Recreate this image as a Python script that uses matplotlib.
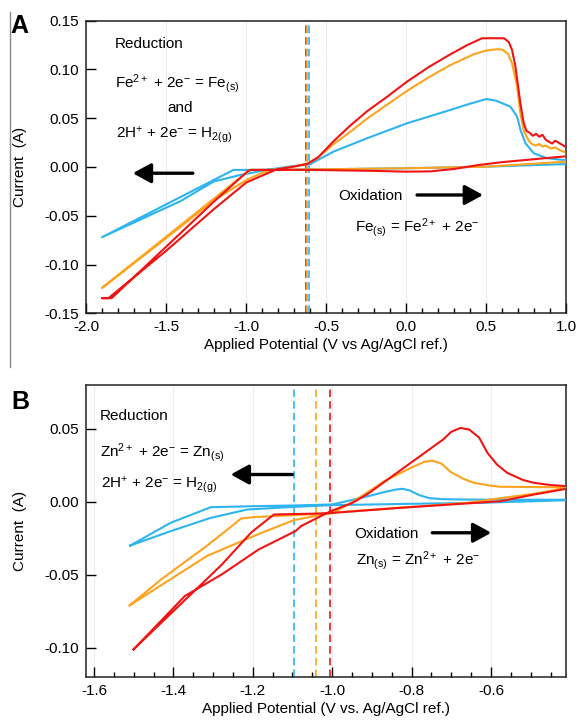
import matplotlib
matplotlib.use("Agg")
import matplotlib.pyplot as plt
from matplotlib.lines import Line2D
from matplotlib.ticker import MultipleLocator, FormatStrFormatter

plt.rcParams['font.family'] = ['Liberation Sans', 'DejaVu Sans']
plt.rcParams['mathtext.fontset'] = 'custom'
plt.rcParams['mathtext.rm'] = 'Liberation Sans'
plt.rcParams['mathtext.it'] = 'Liberation Sans:italic'
plt.rcParams['mathtext.bf'] = 'Liberation Sans:bold'
plt.rcParams['axes.unicode_minus'] = False

RED = '#f01414'
ORANGE = '#fca41e'
BLUE = '#2eb4ee'

# ---------------- Panel A (Fe) data ----------------
a_red_x = [-0.62, -0.55, -0.454, -0.35, -0.246, -0.12, 0.004, 0.14, 0.275, 0.38, 0.473, 0.61, 0.64, 0.66,
           0.68, 0.70, 0.715, 0.733, 0.75, 0.77, 0.79, 0.81, 0.83, 0.85, 0.87, 0.89, 0.91, 0.93, 0.95, 0.97,
           0.99, 1.0,
           1.0, 0.8, 0.6, 0.45, 0.3, 0.15, 0.0, -0.2, -0.4, -0.6, -0.8, -0.97,
           -0.99, -1.2, -1.5, -1.84, -1.90,
           -1.86, -1.5, -1.2, -1.0, -0.91, -0.81, -0.7, -0.62]
a_red_y = [0.003, 0.010, 0.0265, 0.0425, 0.057, 0.072, 0.0875, 0.1025, 0.1155, 0.125, 0.132, 0.132, 0.128, 0.120,
           0.104, 0.080, 0.062, 0.045, 0.037, 0.035, 0.032, 0.034, 0.031, 0.033, 0.028, 0.026, 0.024, 0.027, 0.025, 0.023,
           0.021, 0.020,
           0.011, 0.008, 0.005, 0.002, -0.002, -0.0045, -0.0048, -0.004, -0.0035, -0.003, -0.003, -0.003,
           -0.0043, -0.0353, -0.0818, -0.1345, -0.1345,
           -0.1345, -0.086, -0.043, -0.016, -0.0095, -0.0025, 0.0005, 0.003]

a_orange_x = [-0.61, -0.55, -0.454, -0.35, -0.246, -0.12, 0.004, 0.14, 0.275, 0.42, 0.50, 0.567, 0.60, 0.635,
              0.66, 0.692, 0.7125, 0.733, 0.764, 0.78, 0.806, 0.83, 0.85, 0.87, 0.90, 0.93, 0.96, 0.98, 1.0,
              1.0, 0.5, 0.0, -0.6, -0.975,
              -1.0, -1.2, -1.5, -1.90,
              -1.5, -1.2, -1.0, -0.9, -0.8, -0.7, -0.61]
a_orange_y = [0.004, 0.010, 0.0235, 0.036, 0.0495, 0.064, 0.078, 0.092, 0.1045, 0.1155, 0.1195, 0.1207, 0.1203, 0.116,
              0.1063, 0.0823, 0.0544, 0.0372, 0.027, 0.024, 0.022, 0.0235, 0.021, 0.022, 0.019, 0.020, 0.017, 0.016, 0.014,
              0.0055, 0.0003, -0.0013, -0.0025, -0.003,
              -0.006, -0.0323, -0.0716, -0.124,
              -0.073, -0.034, -0.0135, -0.006, -0.002, 0.0005, 0.004]

a_blue_x = [-0.60, -0.454, -0.246, 0.004, 0.275, 0.40, 0.50, 0.56, 0.65, 0.692, 0.7125, 0.744, 0.796, 0.879,
            0.98, 1.0,
            1.0, 0.5, 0.0, -0.6, -1.0, -1.079,
            -1.41, -1.90,
            -1.41, -1.204, -1.0375, -0.87, -0.75, -0.60]
a_blue_y = [0.003, 0.0158, 0.0294, 0.0448, 0.0585, 0.065, 0.0697, 0.068, 0.0618, 0.0516, 0.038, 0.0243, 0.014, 0.009,
            0.0072, 0.007,
            0.003, 0.0003, -0.0013, -0.0025, -0.003, -0.003,
            -0.0308, -0.072,
            -0.035, -0.015, -0.0082, -0.003, 0.0, 0.003]

a_ocp = [-0.628, -0.619, -0.610]   # red, orange, blue

# ---------------- Panel B (Zn) data ----------------
b_red_x = [-1.50, -1.371, -1.278, -1.185, -1.092, -1.079, -1.004, -0.949, -0.91, -0.82, -0.721, -0.70, -0.677,
           -0.655, -0.63, -0.609, -0.585, -0.559, -0.52, -0.492, -0.45, -0.408,
           -0.408, -0.492, -0.576, -0.70, -0.828, -0.9955, -1.029, -1.147,
           -1.204, -1.278, -1.343, -1.50]
b_red_y = [-0.101, -0.0645, -0.0497, -0.0326, -0.020, -0.0167, -0.0064, -0.0007, 0.0055, 0.0232, 0.0426, 0.0480, 0.0506,
           0.0495, 0.0440, 0.0335, 0.0255, 0.0198, 0.0150, 0.013, 0.0115, 0.0107,
           0.009, 0.005, 0.0004, -0.0018, -0.0041, -0.0075, -0.008, -0.0087,
           -0.021, -0.043, -0.060, -0.101]

b_orange_x = [-1.51, -1.43, -1.315, -1.25, -1.23, -1.20, -1.1, -1.0, -0.954, -0.90, -0.87, -0.8025, -0.77,
              -0.748, -0.725, -0.702, -0.67, -0.643, -0.60, -0.576, -0.408,
              -0.408, -0.492, -0.576, -0.66, -0.828, -1.0,
              -1.096, -1.185, -1.315, -1.407, -1.51]
b_orange_y = [-0.0709, -0.053, -0.030, -0.016, -0.0115, -0.0105, -0.0092, -0.0078, -0.001, 0.0085, 0.014, 0.0232, 0.0272,
              0.0282, 0.0262, 0.0205, 0.0158, 0.013, 0.011, 0.0103, 0.0099,
              0.0096, 0.0055, 0.0025, -0.0007, -0.004, -0.0075,
              -0.0125, -0.022, -0.037, -0.053, -0.0709]

b_blue_x = [-1.509, -1.407, -1.306, -1.2, -1.096, -1.0, -0.954, -0.90, -0.87, -0.84, -0.823, -0.805, -0.78,
            -0.755, -0.72, -0.65, -0.408,
            -0.408, -0.628, -0.814, -1.0, -1.1, -1.214, -1.306, -1.407, -1.509]
b_blue_y = [-0.030, -0.0144, -0.0037, -0.003, -0.0025, -0.0018, 0.001, 0.0045, 0.0066, 0.0084, 0.0089, 0.0078, 0.0045,
            0.0025, 0.0018, 0.0015, 0.0014,
            0.0011, -0.0007, -0.0014, -0.0023, -0.0035, -0.0053, -0.011, -0.0201, -0.030]

b_ocp = [-1.006, -1.041, -1.095]   # red, orange, blue

# ---------------- figure ----------------
fig = plt.figure(figsize=(5.78, 7.21), dpi=100)
axA = fig.add_axes([0.1488, 0.5655, 0.8313, 0.4058])
axB = fig.add_axes([0.1488, 0.0610, 0.8313, 0.4050])

FS = 11
LW = 1.5


def style(ax, xmaj, xmin, ymaj, xfmt, yfmt):
    ax.xaxis.set_major_locator(MultipleLocator(xmaj))
    ax.xaxis.set_minor_locator(MultipleLocator(xmin))
    ax.yaxis.set_major_locator(MultipleLocator(ymaj))
    ax.xaxis.set_major_formatter(FormatStrFormatter(xfmt))
    ax.yaxis.set_major_formatter(FormatStrFormatter(yfmt))
    ax.tick_params(axis='both', which='major', direction='in', length=7, width=1.0, labelsize=FS, pad=5)
    ax.tick_params(axis='x', which='minor', direction='in', length=3.5, width=1.0)
    ax.tick_params(axis='y', which='minor', left=False)
    ax.tick_params(top=False, right=False)
    for s in ax.spines.values():
        s.set_linewidth(1.1)
        s.set_color('#222222')
    ax.grid(axis='x', which='major', color='#ececec', lw=0.8, zorder=0)
    ax.set_axisbelow(True)


# Panel A
axA.set_xlim(-2.0, 1.0)
axA.set_ylim(-0.15, 0.15)
style(axA, 0.5, 0.1, 0.05, '%.1f', '%.2f')
for xv, c in zip(a_ocp, [RED, ORANGE, BLUE]):
    axA.axvline(xv, color=c, lw=1.2, ls=(0, (4.5, 2.5)), zorder=2)
axA.plot(a_blue_x, a_blue_y, color=BLUE, lw=LW, zorder=3)
axA.plot(a_orange_x, a_orange_y, color=ORANGE, lw=LW, zorder=4)
axA.plot(a_red_x, a_red_y, color=RED, lw=LW, zorder=5)
axA.set_xlabel('Applied Potential (V vs Ag/AgCl ref.)', fontsize=FS)
axA.set_ylabel('Current  (A)', fontsize=FS)
axA.xaxis.set_label_coords(0.5, -0.085)
axA.yaxis.set_label_coords(-0.122, 0.5)

axA.text(-1.819, 0.1217, 'Reduction', fontsize=FS, va='baseline', ha='left')
axA.text(-1.819, 0.0817, r'Fe$^{2+}$ + 2e$^{\mathrm{-}}$ = Fe$_{\mathrm{(s)}}$', fontsize=FS, va='baseline', ha='left')
axA.text(-1.4125, 0.0561, 'and', fontsize=FS, va='baseline', ha='center')
axA.text(-1.8125, 0.030, r'2H$^{+}$ + 2e$^{\mathrm{-}}$ = H$_{\mathrm{2(g)}}$', fontsize=FS, va='baseline', ha='left')
axA.text(-0.423, -0.0338, 'Oxidation', fontsize=FS, va='baseline', ha='left')
axA.text(-0.319, -0.0663, r'Fe$_{\mathrm{(s)}}$ = Fe$^{2+}$ + 2e$^{\mathrm{-}}$', fontsize=FS, va='baseline', ha='left')

arrow_kw = dict(arrowstyle='-|>,head_length=0.55,head_width=0.3', lw=2.4, color='black',
                shrinkA=0, shrinkB=0, mutation_scale=20)
axA.annotate('', xy=(-1.708, -0.0064), xytext=(-1.333, -0.0064), arrowprops=arrow_kw)
axA.annotate('', xy=(0.479, -0.0287), xytext=(0.067, -0.0287), arrowprops=arrow_kw)

# Panel B
axB.set_xlim(-1.62, -0.41)
axB.set_ylim(-0.12, 0.08)
style(axB, 0.2, 0.05, 0.05, '%.1f', '%.2f')
for xv, c in zip(b_ocp, [RED, ORANGE, BLUE]):
    axB.axvline(xv, color=c, lw=1.2, ls=(0, (4.5, 2.5)), zorder=2)
axB.plot(b_blue_x, b_blue_y, color=BLUE, lw=LW, zorder=3)
axB.plot(b_orange_x, b_orange_y, color=ORANGE, lw=LW, zorder=4)
axB.plot(b_red_x, b_red_y, color=RED, lw=LW, zorder=5)
axB.set_xlabel('Applied Potential (V vs. Ag/AgCl ref.)', fontsize=FS)
axB.set_ylabel('Current  (A)', fontsize=FS)
axB.xaxis.set_label_coords(0.5, -0.085)
axB.yaxis.set_label_coords(-0.122, 0.5)

axB.text(-1.5855, 0.0563, 'Reduction', fontsize=FS, va='baseline', ha='left')
axB.text(-1.5855, 0.0308, r'Zn$^{2+}$ + 2e$^{\mathrm{-}}$ = Zn$_{\mathrm{(s)}}$', fontsize=FS, va='baseline', ha='left')
axB.text(-1.581, 0.0096, r'2H$^{+}$ + 2e$^{\mathrm{-}}$ = H$_{\mathrm{2(g)}}$', fontsize=FS, va='baseline', ha='left')
axB.text(-0.9453, -0.0246, 'Oxidation', fontsize=FS, va='baseline', ha='left')
axB.text(-0.941, -0.0429, r'Zn$_{\mathrm{(s)}}$ = Zn$^{2+}$ + 2e$^{\mathrm{-}}$', fontsize=FS, va='baseline', ha='left')
axB.annotate('', xy=(-1.2557, 0.0187), xytext=(-1.1004, 0.0187), arrowprops=arrow_kw)
axB.annotate('', xy=(-0.5994, -0.0212), xytext=(-0.748, -0.0212), arrowprops=arrow_kw)

# Panel letters and side rule
fig.text(10 / 578, 1 - 33 / 721, 'A', fontsize=18, weight='bold', va='baseline', ha='left')
fig.text(11 / 578, 1 - 409 / 721, 'B', fontsize=18, weight='bold', va='baseline', ha='left')
fig.add_artist(Line2D([9.5 / 578, 9.5 / 578], [1 - 12 / 721, 1 - 367 / 721], color='#8a8a8a', lw=1.0))

fig.savefig('out.png', dpi=100)
